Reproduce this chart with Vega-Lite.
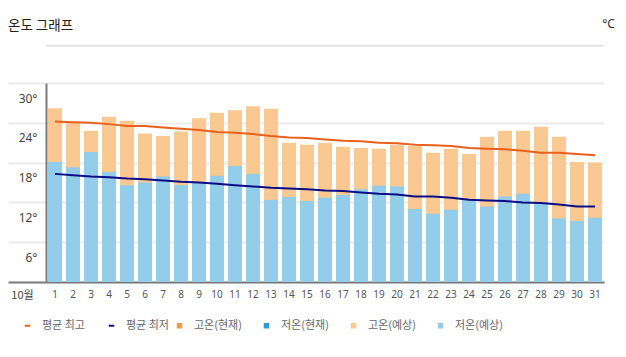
{
  "$schema": "https://vega.github.io/schema/vega-lite/v6.json",
  "width": 558,
  "height": 199,
  "autosize": {"type": "none"},
  "padding": {"left": 46, "top": 83, "right": 22, "bottom": 75},
  "background": "white",
  "title": {"text": "온도 그래프", "anchor": "start", "frame": "group", "dx": -38, "dy": 15, "offset": 0, "fontSize": 13.5, "fontWeight": "normal", "color": "#222222", "font": "Noto Sans CJK KR"},
  "data": {"values": [
    {"day": 1, "high": 26.2, "low": 18.1, "avgHigh": 24.2, "avgLow": 16.3},
    {"day": 2, "high": 24.1, "low": 17.3, "avgHigh": 24.1, "avgLow": 16.1},
    {"day": 3, "high": 22.8, "low": 19.6, "avgHigh": 24.0, "avgLow": 15.9},
    {"day": 4, "high": 24.9, "low": 16.6, "avgHigh": 23.8, "avgLow": 15.8},
    {"day": 5, "high": 24.3, "low": 14.6, "avgHigh": 23.5, "avgLow": 15.6},
    {"day": 6, "high": 22.4, "low": 15.0, "avgHigh": 23.5, "avgLow": 15.5},
    {"day": 7, "high": 22.0, "low": 15.9, "avgHigh": 23.3, "avgLow": 15.3},
    {"day": 8, "high": 22.7, "low": 14.6, "avgHigh": 23.1, "avgLow": 15.1},
    {"day": 9, "high": 24.7, "low": 15.0, "avgHigh": 22.9, "avgLow": 15.0},
    {"day": 10, "high": 25.5, "low": 16.0, "avgHigh": 22.6, "avgLow": 14.8},
    {"day": 11, "high": 25.9, "low": 17.5, "avgHigh": 22.5, "avgLow": 14.6},
    {"day": 12, "high": 26.5, "low": 16.3, "avgHigh": 22.3, "avgLow": 14.4},
    {"day": 13, "high": 26.1, "low": 12.4, "avgHigh": 22.0, "avgLow": 14.2},
    {"day": 14, "high": 21.0, "low": 12.8, "avgHigh": 21.8, "avgLow": 14.1},
    {"day": 15, "high": 20.7, "low": 12.2, "avgHigh": 21.7, "avgLow": 14.0},
    {"day": 16, "high": 21.0, "low": 12.7, "avgHigh": 21.5, "avgLow": 13.8},
    {"day": 17, "high": 20.4, "low": 13.1, "avgHigh": 21.3, "avgLow": 13.7},
    {"day": 18, "high": 20.2, "low": 14.0, "avgHigh": 21.2, "avgLow": 13.5},
    {"day": 19, "high": 20.1, "low": 14.5, "avgHigh": 21.0, "avgLow": 13.3},
    {"day": 20, "high": 20.7, "low": 14.4, "avgHigh": 20.9, "avgLow": 13.2},
    {"day": 21, "high": 20.5, "low": 11.0, "avgHigh": 20.7, "avgLow": 12.9},
    {"day": 22, "high": 19.5, "low": 10.3, "avgHigh": 20.6, "avgLow": 12.9},
    {"day": 23, "high": 20.1, "low": 10.9, "avgHigh": 20.5, "avgLow": 12.7},
    {"day": 24, "high": 19.3, "low": 12.4, "avgHigh": 20.2, "avgLow": 12.4},
    {"day": 25, "high": 21.9, "low": 11.4, "avgHigh": 20.1, "avgLow": 12.3},
    {"day": 26, "high": 22.8, "low": 12.9, "avgHigh": 20.0, "avgLow": 12.2},
    {"day": 27, "high": 22.8, "low": 13.3, "avgHigh": 19.8, "avgLow": 12.0},
    {"day": 28, "high": 23.4, "low": 12.0, "avgHigh": 19.5, "avgLow": 11.9},
    {"day": 29, "high": 21.9, "low": 9.6, "avgHigh": 19.5, "avgLow": 11.7},
    {"day": 30, "high": 18.1, "low": 9.2, "avgHigh": 19.3, "avgLow": 11.4},
    {"day": 31, "high": 18.0, "low": 9.7, "avgHigh": 19.1, "avgLow": 11.4}
  ]},
  "layer": [
    {
      "data": {"values": [{"sep": 35.6}]},
      "mark": {"type": "rule", "color": "#dddddd", "strokeWidth": 1.5},
      "encoding": {"y": {"field": "sep", "type": "quantitative", "title": "°C"}}
    },
    {
      "mark": {"type": "bar"},
      "encoding": {
        "x": {"field": "day", "type": "ordinal", "title": "10월", "scale": {"paddingInner": 0.22, "paddingOuter": 0.11}},
        "y": {"field": "high", "type": "quantitative", "title": "°C", "scale": {"domain": [0, 30], "nice": false}, "axis": {"values": [0, 6, 12, 18, 24, 30], "tickCount": 12, "labelOverlap": false}},
        "fill": {"datum": "고온(예상)", "type": "nominal", "title": null,
          "scale": {"domain": ["고온(현재)", "저온(현재)", "고온(예상)", "저온(예상)"], "range": ["#f5983f", "#2e9bd6", "#f9c991", "#93cdea"]},
          "legend": {"orient": "none", "direction": "horizontal", "legendX": 128, "legendY": 237, "symbolType": "square", "symbolSize": 30, "columnPadding": 19, "labelOffset": 9}}
      }
    },
    {
      "mark": {"type": "bar"},
      "encoding": {
        "x": {"field": "day", "type": "ordinal", "title": "10월"},
        "y": {"field": "low", "type": "quantitative", "title": "°C"},
        "fill": {"datum": "저온(예상)", "type": "nominal", "title": null}
      }
    },
    {
      "mark": {"type": "line", "strokeWidth": 2},
      "encoding": {
        "x": {"field": "day", "type": "ordinal", "title": "10월"},
        "y": {"field": "avgHigh", "type": "quantitative", "title": "°C"},
        "stroke": {"datum": "평균 최고", "type": "nominal", "title": null,
          "scale": {"domain": ["평균 최고", "평균 최저"], "range": ["#e9601d", "#0c0c86"]},
          "legend": {"orient": "none", "direction": "horizontal", "legendX": -24, "legendY": 237, "symbolType": "stroke", "symbolSize": 30, "symbolStrokeWidth": 2, "columnPadding": 19, "labelOffset": 9}}
      }
    },
    {
      "mark": {"type": "line", "strokeWidth": 2},
      "encoding": {
        "x": {"field": "day", "type": "ordinal", "title": "10월"},
        "y": {"field": "avgLow", "type": "quantitative", "title": "°C"},
        "stroke": {"datum": "평균 최저", "type": "nominal", "title": null}
      }
    }
  ],
  "config": {
    "view": {"stroke": null},
    "font": "Noto Sans",
    "legend": {"padding": 0, "labelFont": "Noto Sans CJK KR", "labelFontSize": 11, "labelColor": "#666666", "title": null},
    "axisY": {
      "labelExpr": "datum.value === 0 ? '' : datum.value + '°'",
      "labelOffset": 15,
      "labelAlign": "right",
      "labelBaseline": "middle",
      "labelFont": "Noto Sans",
      "labelFontSize": 12,
      "labelColor": "#444444",
      "tickSize": 38,
      "tickWidth": 2,
      "tickColor": {"condition": {"test": "datum.value === 0", "value": "#7a7a7a"}, "value": "#ececec"},
      "labelPadding": -29,
      "grid": true,
      "gridColor": "#ececec",
      "gridWidth": 2,
      "domainColor": "#7a7a7a",
      "domainWidth": 2,
      "titleAngle": 0,
      "titleX": 562,
      "titleY": -60,
      "titleAlign": "center",
      "titleBaseline": "middle",
      "titleFont": "Noto Sans",
      "titleFontSize": 12,
      "titleFontWeight": "normal",
      "titleColor": "#333333"
    },
    "axisX": {
      "labelAngle": 0,
      "ticks": false,
      "grid": false,
      "domainColor": "#7a7a7a",
      "domainWidth": 2,
      "labelFont": "Noto Sans",
      "labelFontSize": 10,
      "labelColor": "#555555",
      "labelPadding": 7,
      "titleX": -24,
      "titleY": 13,
      "titleAlign": "center",
      "titleBaseline": "middle",
      "titleFont": "Noto Sans CJK KR",
      "titleFontSize": 11,
      "titleFontWeight": "normal",
      "titleColor": "#444444"
    }
  }
}
